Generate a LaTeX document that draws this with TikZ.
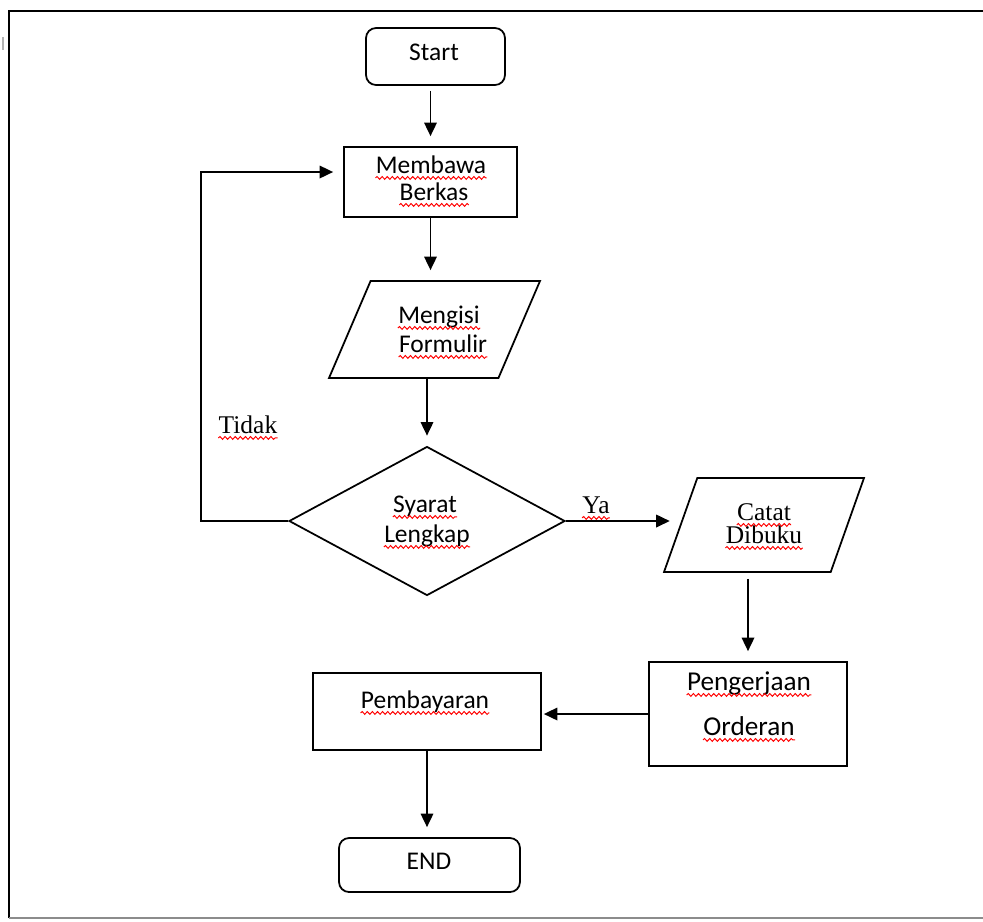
\documentclass[tikz,border=0pt]{standalone}
\usepackage{fontspec}
\setmainfont{Carlito}
\newfontfamily\romfont{Liberation Serif}
\usetikzlibrary{arrows.meta,shapes.geometric,calc,decorations.pathmorphing}

\tikzset{
	proses/.style={draw, line width=1pt, inner sep=2pt},
	mulai/.style={proses, rounded corners=0.2cm},
	data/.style={proses, trapezium, trapezium stretches=true},
	putusan/.style={proses, diamond},
	tulisan/.style={inner sep=0pt, anchor=base, font=\fontsize{14.5}{17}\selectfont},
	serif/.style={tulisan, font=\romfont\fontsize{14.5}{17}\selectfont},
	panah/.style={line width=1pt, -{Triangle[length=0.27cm,width=0.25cm]}, shorten >=0.2cm},
	gelombang/.style={red, line width=0.55pt, decorate, decoration={snake, amplitude=0.8pt, segment length=2.9pt}}
}

\begin{document}
\begin{tikzpicture}[x=0.02cm, y=-0.02cm]
		%%%%% START %%%%%
		\useasboundingbox (0,0) rectangle (983,921);
		
		% frame
		\draw[line width=1.2pt] (9,918) -- (9,11) -- (983,11);
		\draw[black!45, line width=1pt] (9,918) -- (983,918);
		\draw[black!30, line width=1.5pt] (3,37) -- (3,50);
		
		% shapes
		\node[mulai, minimum width=2.78cm, minimum height=1.14cm] (start) at (435.5,56.5) {};
		\node[proses, minimum width=3.46cm, minimum height=1.4cm] (bawa) at (430.5,182) {};
		\node[data, trapezium left angle=72, trapezium right angle=108, minimum width=4.22cm, minimum height=1.94cm] (isi) at (434.5,329.5) {};
		\node[putusan, minimum width=5.52cm, minimum height=2.98cm] (syarat) at (427,521) {};
		\node[data, trapezium left angle=76, trapezium right angle=104, minimum width=4cm, minimum height=1.88cm] (catat) at (764,525) {};
		\node[proses, minimum width=3.96cm, minimum height=2.08cm] (kerja) at (748,714) {};
		\node[proses, minimum width=4.56cm, minimum height=1.54cm] (bayar) at (427,711.5) {};
		\node[mulai, minimum width=3.62cm, minimum height=1.08cm] (selesai) at (429.5,865) {};
		
		% texts
		\node[tulisan] (tstart) at (434,60) {Start};
		\node[tulisan] (membawa) at (431,173) {Membawa};
		\node[tulisan] (berkas) at (434,200) {Berkas};
		\node[tulisan] (mengisi) at (439,323) {Mengisi};
		\node[tulisan] (formulir) at (443,352) {Formulir};
		\node[tulisan] (syarat1) at (425,512) {Syarat};
		\node[tulisan] (lengkap) at (427,542) {Lengkap};
		\node[serif] (catat1) at (764,520) {Catat};
		\node[serif] (dibuku) at (764,543) {Dibuku};
		\node[tulisan, font=\fontsize{15.5}{18}\selectfont] (pengerjaan) at (749,690) {Pengerjaan};
		\node[tulisan, font=\fontsize{15.5}{18}\selectfont] (orderan) at (749,735) {Orderan};
		\node[tulisan] (pembayaran) at (425,708) {Pembayaran};
		\node[tulisan] (tend) at (429,869) {END};
		\node[serif] (tidak) at (248,433) {Tidak};
		\node[serif] (ya) at (596,513) {Ya};
		
		% spelling marks
		\foreach \w in {membawa,berkas,mengisi,formulir,syarat1,lengkap,catat1,dibuku,pengerjaan,orderan,pembayaran,tidak,ya}
			\draw[gelombang] ([yshift=-2.8pt]\w.base west) -- ([yshift=-2.8pt]\w.base east);
		
		% arrows
		\draw[panah, shorten <=0.1cm] (start.south -| bawa.north) -- (bawa.north);
		\draw[panah] (bawa.south) -- (bawa.south |- isi.north);
		\draw[panah] (isi.south -| syarat.north) -- (syarat.north);
		\draw[panah] (syarat.west) -- ++(-87,0) |- ($(bawa.west)+(0,-10)$);
		\draw[panah] (syarat.east) -- (syarat.east -| catat.west);
		\draw[panah, shorten <=0.12cm] (catat.south -| kerja.north) -- (kerja.north);
		\draw[panah, shorten >=0.04cm] (kerja.west) -- (kerja.west -| bayar.east);
		\draw[panah] (bayar.south) -- (bayar.south |- selesai.north);
		%%%%% END %%%%%
\end{tikzpicture}
\end{document}
